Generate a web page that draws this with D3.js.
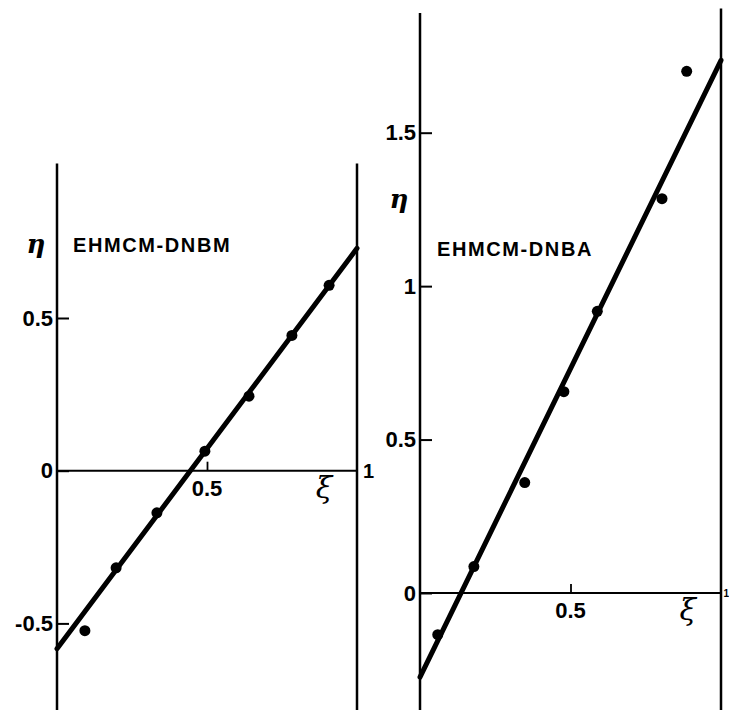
<!DOCTYPE html>
<html>
<head>
<meta charset="utf-8">
<script src="https://cdn.jsdelivr.net/npm/d3@7"></script>
<style>
  body { margin: 0; background: #fff; }
  svg text { font-family: "Liberation Sans", Arial, sans-serif; fill: #000; }
</style>
</head>
<body>
<div id="chart"></div>
<script>
// data (xi, eta)
const leftName = "EHMCM-DNBM";
const leftXi  = [0.093, 0.197, 0.333, 0.493, 0.640, 0.783, 0.907];
const leftEta = [-0.524, -0.318, -0.138, 0.064, 0.244, 0.443, 0.607];
const leftFit = [[0, -0.583], [1, 0.728]];
const leftTicks = [-0.5, 0, 0.5];
const leftTickLabels = ["-0.5", "0", "0.5"];

const rightName = "EHMCM-DNBA";
const rightXi  = [0.059, 0.179, 0.348, 0.478, 0.589, 0.804, 0.886];
const rightEta = [-0.136, 0.086, 0.360, 0.656, 0.918, 1.285, 1.700];
const rightFit = [[0, -0.274], [1, 1.736]];
const rightTicks = [0, 0.5, 1, 1.5];
const rightTickLabels = ["0", "0.5", "1", "1.5"];

const xTick = [0.5];
const xTickLabel = ["0.5"];

const width = 729, height = 710;

const svg = d3.select("#chart")
  .append("svg")
    .attr("width", width)
    .attr("height", height);

// panel layout (pixels)
const panels = [
  {
    name: leftName, xi: leftXi, eta: leftEta, fit: leftFit,
    ticks: leftTicks, tickLabels: leftTickLabels,
    x: d3.scaleLinear().domain([0, 1]).range([57, 357]),
    y: d3.scaleLinear().domain([0, 0.5]).range([470.7, 318]),
    axisTop: 1.006, rightTop: 1.006, bottom: -0.8,
    titleX: 73, titleY: 252,
    etaY: 0.74,
    oneSize: 20, oneDx: 6
  },
  {
    name: rightName, xi: rightXi, eta: rightEta, fit: rightFit,
    ticks: rightTicks, tickLabels: rightTickLabels,
    x: d3.scaleLinear().domain([0, 1]).range([420, 721]),
    y: d3.scaleLinear().domain([0, 1.5]).range([593, 132.7]),
    axisTop: 1.89, rightTop: 1.905, bottom: -0.4,
    titleX: 437, titleY: 256,
    etaY: 1.28,
    oneSize: 10, oneDx: 2.5  // mostly cut off at the page edge in the original
  }
];

panels.forEach(p => {
  const g = svg.append("g");
  const x = p.x, y = p.y;

  // left axis line and right border line
  g.append("line")
    .attr("x1", x(0)).attr("x2", x(0))
    .attr("y1", y(p.axisTop)).attr("y2", y(p.bottom))
    .attr("stroke", "#000").attr("stroke-width", 2.5);
  g.append("line")
    .attr("x1", x(1)).attr("x2", x(1))
    .attr("y1", y(p.rightTop)).attr("y2", y(p.bottom))
    .attr("stroke", "#000").attr("stroke-width", 2.5);

  // zero line (xi axis)
  g.append("line")
    .attr("x1", x(0)).attr("x2", x(1))
    .attr("y1", y(0)).attr("y2", y(0))
    .attr("stroke", "#000").attr("stroke-width", 2);

  // y ticks pointing inward, labels on the left
  const yAxis = g.append("g")
    .attr("transform", `translate(${x(0)},0)`)
    .call(d3.axisLeft(y)
      .tickValues(p.ticks)
      .tickSizeInner(-12)
      .tickSizeOuter(0)
      .tickPadding(4)
      .tickFormat((d, i) => p.tickLabels[i]));
  yAxis.select(".domain").remove();
  yAxis.selectAll("line").attr("stroke-width", 2);
  yAxis.selectAll("text")
    .attr("font-size", 22)
    .attr("font-weight", "bold")
    .style("font-family", "Liberation Sans, Arial, sans-serif");

  // x tick at 0.5 (small upward mark), label below
  const xAxis = g.append("g")
    .attr("transform", `translate(0,${y(0)})`)
    .call(d3.axisTop(x)
      .tickValues(xTick)
      .tickSizeInner(9)
      .tickSizeOuter(0)
      .tickFormat(""));
  xAxis.select(".domain").remove();
  xAxis.selectAll("line").attr("stroke-width", 1.8);

  g.selectAll(".xlab")
    .data(xTick)
    .join("text")
      .attr("x", d => x(d))
      .attr("y", y(0) + 25)
      .attr("text-anchor", "middle")
      .attr("font-size", 22)
      .attr("font-weight", "bold")
      .text((d, i) => xTickLabel[i]);

  // "1" at end of the xi axis
  g.append("text")
    .attr("x", x(1) + p.oneDx)
    .attr("y", y(0) + p.oneSize * 0.36)
    .attr("font-size", p.oneSize)
    .attr("font-weight", "bold")
    .text("1");

  // xi symbol
  g.append("text")
    .attr("x", x(0.89))
    .attr("y", y(0) + 27)
    .attr("text-anchor", "middle")
    .attr("font-size", 30)
    .attr("font-style", "italic")
    .style("font-family", "DejaVu Serif, serif")
    .text("ξ");

  // eta symbol
  g.append("text")
    .attr("x", x(0) - 21)
    .attr("y", y(p.etaY) + 8)
    .attr("text-anchor", "middle")
    .attr("font-size", 26)
    .attr("font-style", "italic")
    .attr("font-weight", "bold")
    .style("font-family", "DejaVu Serif, serif")
    .text("η");

  // title
  g.append("text")
    .attr("x", p.titleX)
    .attr("y", p.titleY)
    .attr("font-size", 20)
    .attr("font-weight", "bold")
    .attr("letter-spacing", 1.6)
    .text(p.name);

  // fitted line
  const lineGen = d3.line()
    .x(d => x(d[0]))
    .y(d => y(d[1]));
  g.append("path")
    .datum(p.fit)
    .attr("d", lineGen)
    .attr("fill", "none")
    .attr("stroke", "#000")
    .attr("stroke-width", 5)
    .attr("stroke-linecap", "round");

  // points
  g.selectAll(".pt")
    .data(p.xi.map((v, i) => [v, p.eta[i]]))
    .join("circle")
      .attr("class", "pt")
      .attr("cx", d => x(d[0]))
      .attr("cy", d => y(d[1]))
      .attr("r", 5.5)
      .attr("fill", "#000");
});
</script>
</body>
</html>
